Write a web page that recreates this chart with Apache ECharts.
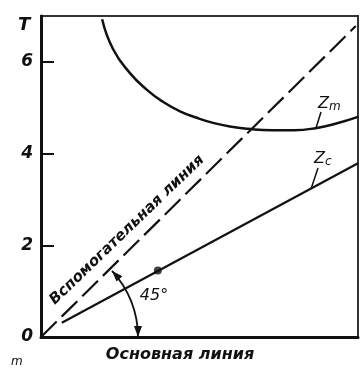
<!DOCTYPE html>
<html>
<head>
<meta charset="utf-8">
<script src="https://cdn.jsdelivr.net/npm/echarts@6/dist/echarts.min.js"></script>
<style>
  html, body { margin: 0; padding: 0; background: #fff; }
  #chart { width: 360px; height: 370px; }
</style>
</head>
<body>
<div id="chart"></div>
<script>
// values
const yTicks = [0, 2, 4, 6];
const yTickMarks = [2, 4, 6];
const zmCurve = [
  [1.35, 6.93], [1.59, 6.28], [1.96, 5.76], [2.34, 5.39], [2.69, 5.13],
  [3.07, 4.92], [3.44, 4.78], [3.80, 4.67], [4.17, 4.59], [4.57, 4.54],
  [5.10, 4.51], [5.60, 4.51], [6.09, 4.56], [6.50, 4.65], [7.00, 4.80]
];
const zcLine = [[0.46, 0.31], [7.0, 3.79]];
const auxLine = [[0, 0], [6.95, 6.78]];
const zcMark = [[2.58, 1.45]];

const ink = '#111';
const font = '"DejaVu Sans", sans-serif';

const myChart = echarts.init(document.getElementById('chart'));

const option = {
  animation: false,
  backgroundColor: '#fff',
  grid: {
    left: 41,
    right: 2,
    top: 16,
    bottom: 33,
    show: true,
    borderColor: '#333',
    borderWidth: 2,
  },
  xAxis: {
    type: 'value',
    min: 0,
    max: 7,
    axisLine: { show: true, lineStyle: { color: ink, width: 3 } },
    axisTick: { show: false },
    axisLabel: { show: false },
    splitLine: { show: false },
  },
  yAxis: {
    type: 'value',
    min: 0,
    max: 7,
    interval: 2,
    axisLine: { show: true, lineStyle: { color: ink, width: 3 } },
    axisTick: {
      show: true,
      inside: true,
      length: 13,
      customValues: yTickMarks,
      lineStyle: { color: ink, width: 2 },
    },
    axisLabel: {
      customValues: yTicks,
      margin: 8,
      color: ink,
      fontSize: 17,
      fontWeight: 'bold',
      fontStyle: 'italic',
      fontFamily: font,
    },
    splitLine: { show: false },
  },
  series: [
    {
      name: 'Zm',
      type: 'line',
      smooth: true,
      symbol: 'none',
      data: zmCurve,
      lineStyle: { color: ink, width: 2.5 },
    },
    {
      name: 'Zc',
      type: 'line',
      symbol: 'none',
      data: zcLine,
      lineStyle: { color: ink, width: 2.2 },
    },
    {
      name: 'aux',
      type: 'line',
      symbol: 'none',
      data: auxLine,
      lineStyle: { color: ink, width: 2.2, type: [22, 7] },
    },
    {
      name: 'mark',
      type: 'scatter',
      symbol: 'circle',
      symbolSize: 8,
      data: zcMark,
      itemStyle: { color: ink },
    },
  ],
};

myChart.setOption(option);

// annotations
const o = myChart.convertToPixel({ gridIndex: 0 }, [0, 0]);
const r = 97;
const a0 = -43 * Math.PI / 180;
const sx = o[0] + r * Math.cos(a0);
const sy = o[1] + r * Math.sin(a0);
const tx = -Math.sin(a0), ty = Math.cos(a0); // tangent toward the x axis

const textStyle = (size, extra) => Object.assign({
  fill: ink,
  fontSize: size,
  fontStyle: 'italic',
  fontWeight: 'bold',
  fontFamily: font,
}, extra || {});

myChart.setOption({
  graphic: [
    { type: 'text', left: 18, top: 16, style: textStyle(18, { text: 'T' }) },
    { type: 'text', left: 11, top: 356, style: textStyle(12, { text: 'm', fontWeight: 'normal' }) },
    {
      type: 'text', x: 180, y: 355,
      style: textStyle(16, { text: 'Основная линия', textAlign: 'center', textVerticalAlign: 'middle' }),
    },
    {
      type: 'text', x: 127, y: 230, rotation: 44 * Math.PI / 180,
      style: textStyle(15, { text: 'Вспомогательная линия', textAlign: 'center', textVerticalAlign: 'middle' }),
    },
    {
      type: 'text', x: 154, y: 296,
      style: textStyle(16, { text: '45°', textAlign: 'center', textVerticalAlign: 'middle', fontWeight: 'normal' }),
    },
    {
      type: 'text', x: 318, y: 95,
      style: {
        text: '{z|Z}{s|m}',
        rich: {
          z: textStyle(16, { fontWeight: 'normal' }),
          s: textStyle(12, { fontWeight: 'normal', padding: [6, 0, 0, 0] }),
        },
      },
    },
    {
      type: 'text', x: 314, y: 150,
      style: {
        text: '{z|Z}{s|c}',
        rich: {
          z: textStyle(16, { fontWeight: 'normal' }),
          s: textStyle(12, { fontWeight: 'normal', padding: [6, 0, 0, 0] }),
        },
      },
    },
    { type: 'line', shape: { x1: 321, y1: 112, x2: 316, y2: 128 }, style: { stroke: ink, lineWidth: 1.5 } },
    { type: 'line', shape: { x1: 318, y1: 168, x2: 311, y2: 189 }, style: { stroke: ink, lineWidth: 1.5 } },
    {
      type: 'arc',
      shape: { cx: o[0], cy: o[1], r: r, startAngle: a0, endAngle: 0, clockwise: true },
      style: { stroke: ink, lineWidth: 1.8, fill: null },
    },
    {
      type: 'polygon',
      shape: { points: [[o[0] + r, o[1]], [o[0] + r - 4, o[1] - 11], [o[0] + r + 4, o[1] - 11]] },
      style: { fill: ink },
    },
    {
      type: 'polygon',
      shape: {
        points: [
          [sx, sy],
          [sx + tx * 11 - ty * 4, sy + ty * 11 + tx * 4],
          [sx + tx * 11 + ty * 4, sy + ty * 11 - tx * 4],
        ],
      },
      style: { fill: ink },
    },
  ],
});
</script>
</body>
</html>
